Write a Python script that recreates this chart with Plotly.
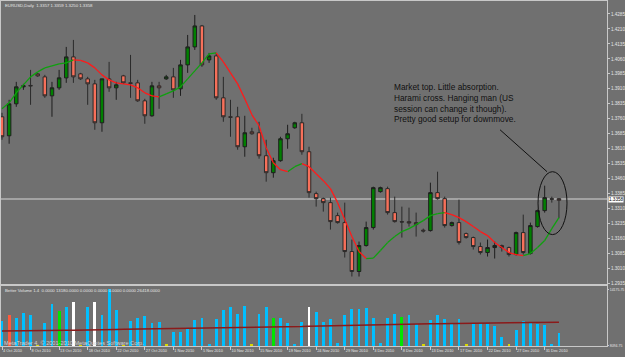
import plotly.graph_objects as go

# ---------------- data (EURUSD Daily, bar index 0 = 4 Oct 2010) ----------------
open_ = [1.3770,1.3675,1.3835,1.3920,1.3927,1.3985,1.3970,1.3875,1.3915,1.3965,
         1.4070,1.3985,1.3960,1.3935,1.3740,1.3960,1.3915,1.3975,1.3940,1.3940,
         1.3850,1.3775,1.3925,1.3960,1.3970,1.3910,1.4030,1.4120,1.4225,1.4055,
         1.4075,1.3865,1.3770,1.3770,1.3620,1.3695,1.3690,1.3575,1.3490,1.3550,
         1.3660,1.3715,1.3740,1.3595,1.3385,1.3360,1.3340,1.3275,1.3240,1.3095,
         1.2995,1.3125,1.3215,1.3395,1.3410,1.3290,1.3245,1.3245,1.3240,1.3202,
         1.3200,1.3390,1.3360,1.3225,1.3240,1.3185,1.3165,1.3120,1.3090,1.3115,
         1.3125,1.3115,1.3080,1.3190,1.3085,1.3220,1.3300,1.3360,1.3360]
high = [1.3790,1.3855,1.3945,1.3935,1.4005,1.3990,1.3980,1.3945,1.4005,1.4120,
        1.4155,1.3990,1.3970,1.3955,1.3960,1.4045,1.3945,1.3980,1.4080,1.3955,
        1.3860,1.3945,1.3945,1.3980,1.4015,1.4055,1.4180,1.4280,1.4230,1.4090,
        1.4090,1.3970,1.3855,1.3820,1.3775,1.3715,1.3745,1.3655,1.3565,1.3670,
        1.3730,1.3745,1.3785,1.3620,1.3395,1.3365,1.3365,1.3290,1.3340,1.3155,
        1.3145,1.3245,1.3420,1.3420,1.3420,1.3370,1.3320,1.3315,1.3290,1.3210,
        1.3440,1.3495,1.3370,1.3245,1.3355,1.3190,1.3170,1.3140,1.3155,1.3145,
        1.3130,1.3120,1.3195,1.3280,1.3240,1.3305,1.3425,1.3370,1.3362]
low = [1.3655,1.3635,1.3820,1.3905,1.3830,1.3970,1.3865,1.3770,1.3905,1.3940,
       1.3940,1.3955,1.3830,1.3705,1.3695,1.3895,1.3855,1.3935,1.3865,1.3845,
       1.3735,1.3770,1.3810,1.3955,1.3865,1.3875,1.3990,1.4105,1.4020,1.4040,
       1.3855,1.3745,1.3670,1.3605,1.3570,1.3680,1.3560,1.3445,1.3465,1.3545,
       1.3610,1.3710,1.3580,1.3365,1.3320,1.3295,1.3205,1.3235,1.3065,1.2970,
       1.2970,1.3120,1.3205,1.3390,1.3280,1.3240,1.3165,1.3220,1.3170,1.3190,
       1.3195,1.3355,1.3215,1.3220,1.3130,1.3160,1.3105,1.3080,1.3070,1.3060,
       1.3095,1.3070,1.3075,1.3080,1.3080,1.3215,1.3290,1.3340,1.3262]
close = [1.3670,1.3835,1.3920,1.3925,1.3925,1.3975,1.3875,1.3915,1.3965,1.4070,
         1.3970,1.3960,1.3935,1.3740,1.3960,1.3915,1.3930,1.3940,1.3938,1.3850,
         1.3775,1.3925,1.3915,1.3970,1.3905,1.4030,1.4120,1.4225,1.4030,1.4075,
         1.3865,1.3770,1.3768,1.3620,1.3690,1.3685,1.3575,1.3490,1.3550,1.3660,
         1.3685,1.3740,1.3595,1.3390,1.3360,1.3340,1.3245,1.3240,1.3095,1.2995,
         1.3125,1.3215,1.3415,1.3415,1.3290,1.3245,1.3243,1.3238,1.3230,1.3198,
         1.3390,1.3360,1.3225,1.3240,1.3140,1.3165,1.3120,1.3090,1.3115,1.3125,
         1.3115,1.3080,1.3190,1.3090,1.3225,1.3300,1.3365,1.3357,1.3352]
ma = [1.3810,1.3840,1.3890,1.3930,1.3970,1.3995,1.4015,1.4025,1.4035,1.4040,
      1.4055,1.4053,1.4040,1.4015,1.3980,1.3955,1.3940,1.3935,1.3930,1.3915,
      1.3890,1.3875,1.3870,1.3885,1.3900,1.3920,1.3960,1.4000,1.4040,1.4085,
      1.4090,1.4045,1.3990,1.3935,1.3860,1.3780,1.3725,1.3615,1.3540,1.3505,
      1.3495,1.3520,1.3535,1.3520,1.3485,1.3450,1.3410,1.3340,1.3255,1.3170,
      1.3095,1.3060,1.3062,1.3100,1.3140,1.3170,1.3195,1.3210,1.3230,1.3250,
      1.3275,1.3285,1.3290,1.3280,1.3265,1.3245,1.3220,1.3195,1.3175,1.3140,
      1.3115,1.3090,1.3080,1.3075,1.3085,1.3115,1.3150,1.3210,1.3265]
volume = [10762,11402,11082,11616,11402,8150,10549,12576,11829,12256,
          12790,8150,12256,12790,11402,14177,11936,8150,10762,11082,
          11296,10549,10656,8250,9589,9589,9909,10869,11082,8300,
          10976,11936,12256,11509,12363,8250,11509,12256,11082,11082,
          10549,8300,10656,12256,11723,10656,10976,8350,11402,12043,
          12043,12149,11082,8350,11082,11509,11189,11402,10442,8250,
          10869,11402,10976,10442,10976,8250,10549,10549,10442,10229,
          9055,8250,9802,10762,10549,10442,10336,8300,9482]
vol_type = ["n","climax_up","n","n","n","low","n","n","churn","n",
            "climax_dn","low","n","climax_dn","n","n","n","low","n","n",
            "n","n","n","low","n","n","n","n","n","n",
            "n","n","n","n","n","low","n","n","churn","n",
            "n","n","n","climax_dn","n","n","n","n","n","n",
            "n","n","n","n","n","n","churn","n","n","low",
            "n","n","n","n","n","low","n","n","n","n",
            "n","low","n","n","n","n","n","n","n"]
vol_ma = [9700,9700,9710,9720,9720,9730,9740,9750,9760,9780,
          9800,9800,9810,9830,9850,9870,9880,9890,9900,9900,
          9920,9930,9950,9960,9970,9980,9990,10000,10010,10020,
          10030,10040,10050,10060,10070,10080,10090,10100,10110,10120,
          10130,10150,10200,10230,10250,10260,10270,10280,10300,10320,
          10340,10360,10380,10400,10420,10430,10440,10450,10460,10470,
          10480,10490,10500,10510,10520,10530,10540,10550,10560,10570,
          10580,10590,10600,10610,10620,10630,10640,10650,10660]
date_ticks = [0,4,8,12,16,20,24,28,32,36,40,44,48,52,56,60,64,68,72,76]
date_labels = ["4 Oct 2010","8 Oct 2010","13 Oct 2010","18 Oct 2010","22 Oct 2010",
               "27 Oct 2010","1 Nov 2010","5 Nov 2010","10 Nov 2010","15 Nov 2010",
               "19 Nov 2010","24 Nov 2010","29 Nov 2010","3 Dec 2010","8 Dec 2010",
               "13 Dec 2010","17 Dec 2010","22 Dec 2010","27 Dec 2010","31 Dec 2010"]
price_ticks = [1.4285,1.4210,1.4135,1.4060,1.3985,1.3910,1.3835,1.3760,1.3685,1.3610,
               1.3535,1.3460,1.3385,1.3310,1.3235,1.3160,1.3085,1.3010,1.2935]
bid = 1.3358
vol_scale = [8094.75, 14175.75]
header = "EURUSD,Daily  1.3357 1.3359 1.3250 1.3358"
vol_header = "Better Volume 1.4  0.0000 13180.0000 0.0000 0.0000 0.0000 0.0000 26418.0000"
note_lines = ["Market top. Little absorption.",
              "Harami cross. Hanging man (US",
              "session can change it though).",
              "Pretty good setup for downmove."]

assert len(open_) == len(high) == len(low) == len(close) == len(ma) == len(volume) == len(vol_type) == len(vol_ma) == 79

# ---------------- styling ----------------
BG = "#707070"
FRAME = "#c8c8c8"
TXT = "#e6e6e6"
FONT = "Liberation Sans, Arial, sans-serif"
vol_colors = {"n": "#00bfff", "climax_up": "#ff5a3c", "climax_dn": "#ffffff",
              "churn": "#00e600", "low": "#d8d800"}

idx = list(range(len(close)))
fig = go.Figure()

fig.add_trace(go.Candlestick(
    x=idx, open=open_, high=high, low=low, close=close,
    increasing=dict(fillcolor="#008000", line=dict(color="#1e1e1e", width=1)),
    decreasing=dict(fillcolor="#f7705a", line=dict(color="#2a2a2a", width=1)),
    whiskerwidth=0, showlegend=False, hoverinfo="skip", xaxis="x", yaxis="y"))

# direction-coloured moving average
gx, gy, rx, ry = [], [], [], []
for i in range(len(ma) - 1):
    if ma[i + 1] >= ma[i]:
        gx += [i, i + 1, None]; gy += [ma[i], ma[i + 1], None]
    else:
        rx += [i, i + 1, None]; ry += [ma[i], ma[i + 1], None]
fig.add_trace(go.Scatter(x=gx, y=gy, mode="lines", line=dict(color="#10a010", width=1.3),
                         showlegend=False, hoverinfo="skip", xaxis="x", yaxis="y"))
fig.add_trace(go.Scatter(x=rx, y=ry, mode="lines", line=dict(color="#ff1a1a", width=1.3),
                         showlegend=False, hoverinfo="skip", xaxis="x", yaxis="y"))

# volume
fig.add_trace(go.Bar(x=idx, y=volume, width=0.4,
                     marker=dict(color=[vol_colors[t] for t in vol_type], line=dict(width=0)),
                     showlegend=False, hoverinfo="skip", xaxis="x2", yaxis="y2"))
fig.add_trace(go.Scatter(x=idx, y=vol_ma, mode="lines", line=dict(color="#8b1a1a", width=1.5),
                         showlegend=False, hoverinfo="skip", xaxis="x2", yaxis="y2"))

xr = [-0.14, 84.73]
axis_common = dict(showgrid=False, zeroline=False, showline=True, mirror=True,
                   linecolor=FRAME, linewidth=1, fixedrange=True, automargin=False)

fig.update_layout(
    width=625, height=357,
    margin=dict(l=1, r=18, t=1, b=11, autoexpand=False),
    paper_bgcolor=BG, plot_bgcolor=BG,
    font=dict(family=FONT, color=TXT, size=5),
    bargap=0,
    xaxis=dict(domain=[0, 1], range=xr, anchor="y", showticklabels=False, ticks="",
               rangeslider=dict(visible=False), **axis_common),
    yaxis=dict(domain=[0.1783, 1], range=[1.2930, 1.4350], side="right", anchor="x",
               tickvals=price_ticks, ticktext=[f"{v:.4f}" for v in price_ticks],
               ticks="outside", ticklen=2, tickcolor=FRAME, ticklabelstandoff=0,
               tickfont=dict(size=4.6, color=TXT), **axis_common),
    xaxis2=dict(domain=[0, 1], range=xr, anchor="y2", matches="x",
                tickvals=date_ticks, ticktext=date_labels, ticks="outside", ticklen=3,
                tickcolor=FRAME, ticklabelposition="outside right", tickangle=0,
                tickfont=dict(size=3.9, color=TXT), rangeslider=dict(visible=False),
                **axis_common),
    yaxis2=dict(domain=[0, 0.1725], range=[8094.75, 14496.75], side="right", anchor="x2",
                tickvals=vol_scale, ticktext=[f"{v:.2f}" for v in vol_scale],
                ticks="outside", ticklen=1, tickcolor=FRAME, ticklabelstandoff=0,
                tickfont=dict(size=3.5, color=TXT), **axis_common),
)

shapes = [
    dict(type="line", xref="x", yref="y", x0=xr[0], x1=xr[1], y0=bid, y1=bid,
         line=dict(color="#b4b4b4", width=1.5), layer="below"),
    dict(type="circle", xref="x", yref="y", x0=75.07, x1=79.13, y0=1.3180, y1=1.3495,
         line=dict(color="#111111", width=1)),
    dict(type="line", xref="x", yref="y", x0=69.75, y0=1.3705, x1=76.33, y1=1.3495,
         line=dict(color="#111111", width=1)),
]
fig.update_layout(shapes=shapes)

ann = [
    dict(xref="paper", yref="paper", x=0.0035, y=0.988, xanchor="left", yanchor="middle",
         text=header, showarrow=False, font=dict(size=4.3, color=TXT)),
    dict(xref="paper", yref="paper", x=0.0035, y=0.162, xanchor="left", yanchor="middle",
         text=vol_header, showarrow=False, font=dict(size=4.3, color=TXT)),
    dict(xref="paper", yref="paper", x=0.002, y=0.009, xanchor="left", yanchor="middle",
         text="MetaTrader 4, © 2001-2010 MetaQuotes Software Corp.", showarrow=False,
         font=dict(size=5.6, color="#d0d0d0")),
    dict(xref="paper", yref="y", x=1, y=bid, xanchor="left", yanchor="middle", xshift=1,
         text=f"{bid:.4f}", showarrow=False, bgcolor="#ffffff", borderpad=0,
         font=dict(size=4.6, color="#000000")),
    dict(xref="x", yref="y", x=54.62, y=1.3838, xanchor="left", yanchor="middle",
         align="left", text="<br>".join(note_lines), showarrow=False,
         font=dict(size=8.3, color="#101010", family=FONT)),
]
fig.update_layout(annotations=ann)

fig.write_html("out.html")
